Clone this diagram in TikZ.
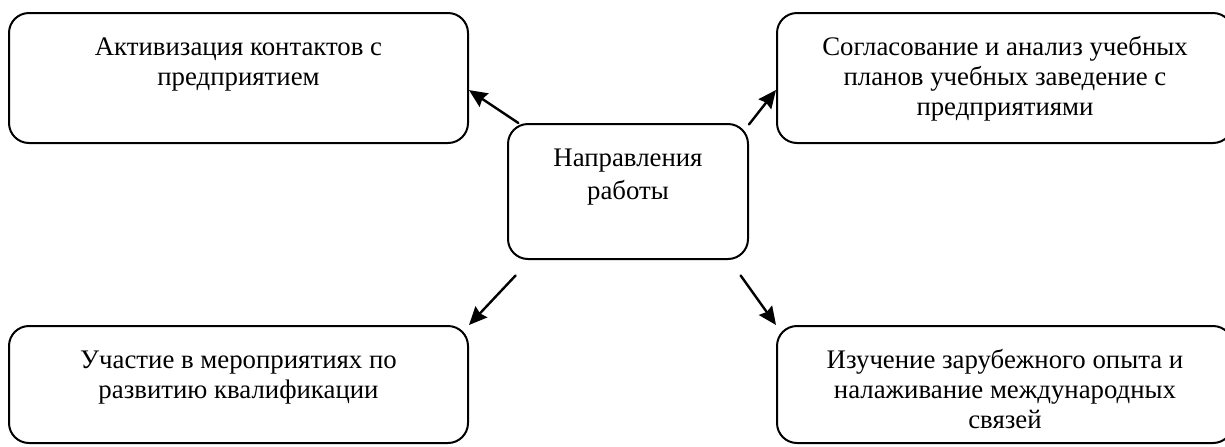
\documentclass[tikz,border=0pt]{standalone}
\usepackage{fontspec}
\setmainfont{Liberation Serif}
\usetikzlibrary{arrows.meta}
\newcommand{\boxtext}[3]{\parbox[c][#2][t]{#1}{\centering\rule{0pt}{21pt}#3}}

\begin{document}
\begin{tikzpicture}[x=0.5pt,y=-0.5pt,line join=round,line cap=round,
	font=\fontsize{13.4}{15}\selectfont,>={Stealth[length=9pt,width=8pt,inset=1pt]},
	box/.style={draw,line width=1pt,rounded corners=10pt,inner sep=0pt}]
	\clip (0,0) rectangle (1225,446);
	\node[box] (dir) at (628,191.5) {\boxtext{120pt}{67.5pt}{Направления\\[1.5pt]работы}};
	\node[box] (act) at (238.5,78) {\boxtext{229.5pt}{65pt}{Активизация контактов с\\предприятием}};
	\node[box] (plan) at (1005,78) {\boxtext{228pt}{65pt}{Согласование и анализ учебных\\планов учебных заведение с\\предприятиями}};
	\node[box] (part) at (238.5,384.5) {\boxtext{229.5pt}{58.5pt}{Участие в мероприятиях по\\развитию квалификации}};
	\node[box] (abroad) at (1005,384.5) {\boxtext{228pt}{58.5pt}{Изучение зарубежного опыта и\\налаживание международных\\связей}};
	\draw[->,line width=1.2pt] (dir.148) -- (act.-3);
	\draw[->,line width=1.2pt] (dir.29) -- (plan.-177);
	\draw[->,line width=1.2pt,shorten <=10.6pt] (dir.215.7) -- (part.north east);
	\draw[->,line width=1.2pt,shorten <=9.5pt] (dir.-34.5) -- (abroad.north west);
\end{tikzpicture}
\end{document}
